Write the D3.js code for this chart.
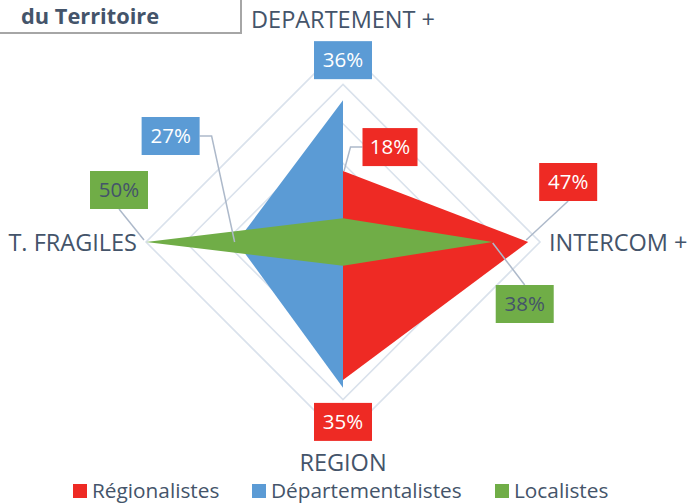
<!DOCTYPE html>
<html>
<head>
<meta charset="utf-8">
<script src="https://cdn.jsdelivr.net/npm/d3@7"></script>
<style>
  body { margin: 0; background: #fff; }
  svg { display: block; font-family: "Open Sans", sans-serif; }
</style>
</head>
<body>
<svg></svg>
<script>
const [width, height] = [689, 504];
const cx = 343, cy = 242, radius = 197;

const categories = ["DEPARTEMENT +", "INTERCOM +", "REGION", "T. FRAGILES"];
const seriesNames = ["Régionalistes", "Départementalistes", "Localistes"];
const regionalistes = [18, 47, 35, 0];
const departementalistes = [36, 0, 37, 27];
const localistes = [6, 38, 6, 50];
const ringTicks = [10, 20, 30, 40, 50];

const colors = ["#EE2A24", "#5B9BD5", "#70AD47"];
const textColor = "#44546A";

const svg = d3.select("svg").attr("width", width).attr("height", height);

// title box cut off at the top left
svg.append("rect").attr("x", -3).attr("y", -3).attr("width", 244).attr("height", 36)
  .attr("fill", "#fff").attr("stroke", "#A6A6A6").attr("stroke-width", 2);
svg.append("text").attr("x", 21).attr("y", 24)
  .attr("font-size", 21.8).attr("font-weight", "bold").attr("fill", textColor)
  .text("du Territoire");

const r = d3.scaleLinear().domain([0, 50]).range([0, radius]);
const angle = d3.scaleLinear().domain([0, categories.length]).range([0, 2 * Math.PI]);

const g = svg.append("g").attr("transform", `translate(${cx}, ${cy})`);

const radial = d3.lineRadial()
  .angle((d, i) => angle(i))
  .radius(d => r(d))
  .curve(d3.curveLinearClosed);

// grid rings
g.selectAll(".ring").data(ringTicks).join("path")
  .attr("class", "ring")
  .attr("d", t => radial(categories.map(() => t)))
  .attr("fill", "none").attr("stroke", "#DAE2EC").attr("stroke-width", 1.6);

// series polygons
const allSeries = [regionalistes, departementalistes, localistes];
g.selectAll(".area").data(allSeries).join("path")
  .attr("class", "area")
  .attr("d", d => radial(d))
  .attr("fill", (d, i) => colors[i]);

// category labels
const point = (v, i) => {
  const a = angle(i);
  return [Math.sin(a) * r(v), -Math.cos(a) * r(v)];
};
const catPos = [
  { x: 0, y: -214, anchor: "middle" },
  { x: 206, y: 9, anchor: "start" },
  { x: 0, y: 229, anchor: "middle" },
  { x: -206, y: 9, anchor: "end" }
];
g.selectAll(".cat").data(categories).join("text")
  .attr("class", "cat")
  .attr("x", (d, i) => catPos[i].x)
  .attr("y", (d, i) => catPos[i].y)
  .attr("text-anchor", (d, i) => catPos[i].anchor)
  .attr("font-size", 23.5).attr("fill", textColor)
  .text(d => d);

// data labels: series index, category index, box offset from point, leader elbow
const labels = [
  { s: 0, c: 0, dx: 47, dy: -24, w: 55, elbow: "left" },
  { s: 0, c: 1, dx: 40, dy: -60, w: 58, elbow: "bottom" },
  { s: 0, c: 2, dx: 0, dy: 42, w: 58, elbow: null },
  { s: 1, c: 0, dx: 0, dy: -40, w: 58, elbow: null },
  { s: 1, c: 3, dx: -66, dy: -106, w: 58, elbow: "right" },
  { s: 2, c: 3, dx: -27, dy: -52, w: 58, elbow: "bottom" },
  { s: 2, c: 1, dx: 32, dy: 62, w: 58, elbow: "top" }
];
const boxH = 38;

labels.forEach(l => {
  const v = allSeries[l.s][l.c];
  const [px, py] = point(v, l.c);
  const bx = px + l.dx, by = py + l.dy;
  let pts = null;
  if (l.elbow === "left") pts = [[bx - l.w / 2, by], [bx - l.w / 2 - 12, by], [px + 1, py]];
  if (l.elbow === "right") pts = [[bx + l.w / 2, by], [bx + l.w / 2 + 12, by], [px - 2, py]];
  if (l.elbow === "bottom") pts = [[bx, by + boxH / 2], [px - 2, py - 2]];
  if (l.elbow === "top") pts = [[bx, by - boxH / 2], [px, py + 1]];
  if (pts) {
    g.append("path").attr("d", d3.line()(pts))
      .attr("fill", "none").attr("stroke", "#ADB9CA").attr("stroke-width", 1.5);
  }
  g.append("rect")
    .attr("x", bx - l.w / 2).attr("y", by - boxH / 2)
    .attr("width", l.w).attr("height", boxH)
    .attr("fill", colors[l.s]);
  g.append("text")
    .attr("x", bx).attr("y", by + 7)
    .attr("text-anchor", "middle")
    .attr("font-size", 20.5)
    .attr("fill", l.s === 2 ? textColor : "#fff")
    .text(v + "%");
});

// legend
const legendX = [73, 252, 495];
const legend = svg.selectAll(".leg").data(seriesNames).join("g")
  .attr("class", "leg")
  .attr("transform", (d, i) => `translate(${legendX[i]}, 484)`);
legend.append("rect").attr("width", 14).attr("height", 14).attr("fill", (d, i) => colors[i]);
legend.append("text").attr("x", 19).attr("y", 14)
  .attr("font-size", 20.8).attr("fill", textColor)
  .text(d => d);
</script>
</body>
</html>
